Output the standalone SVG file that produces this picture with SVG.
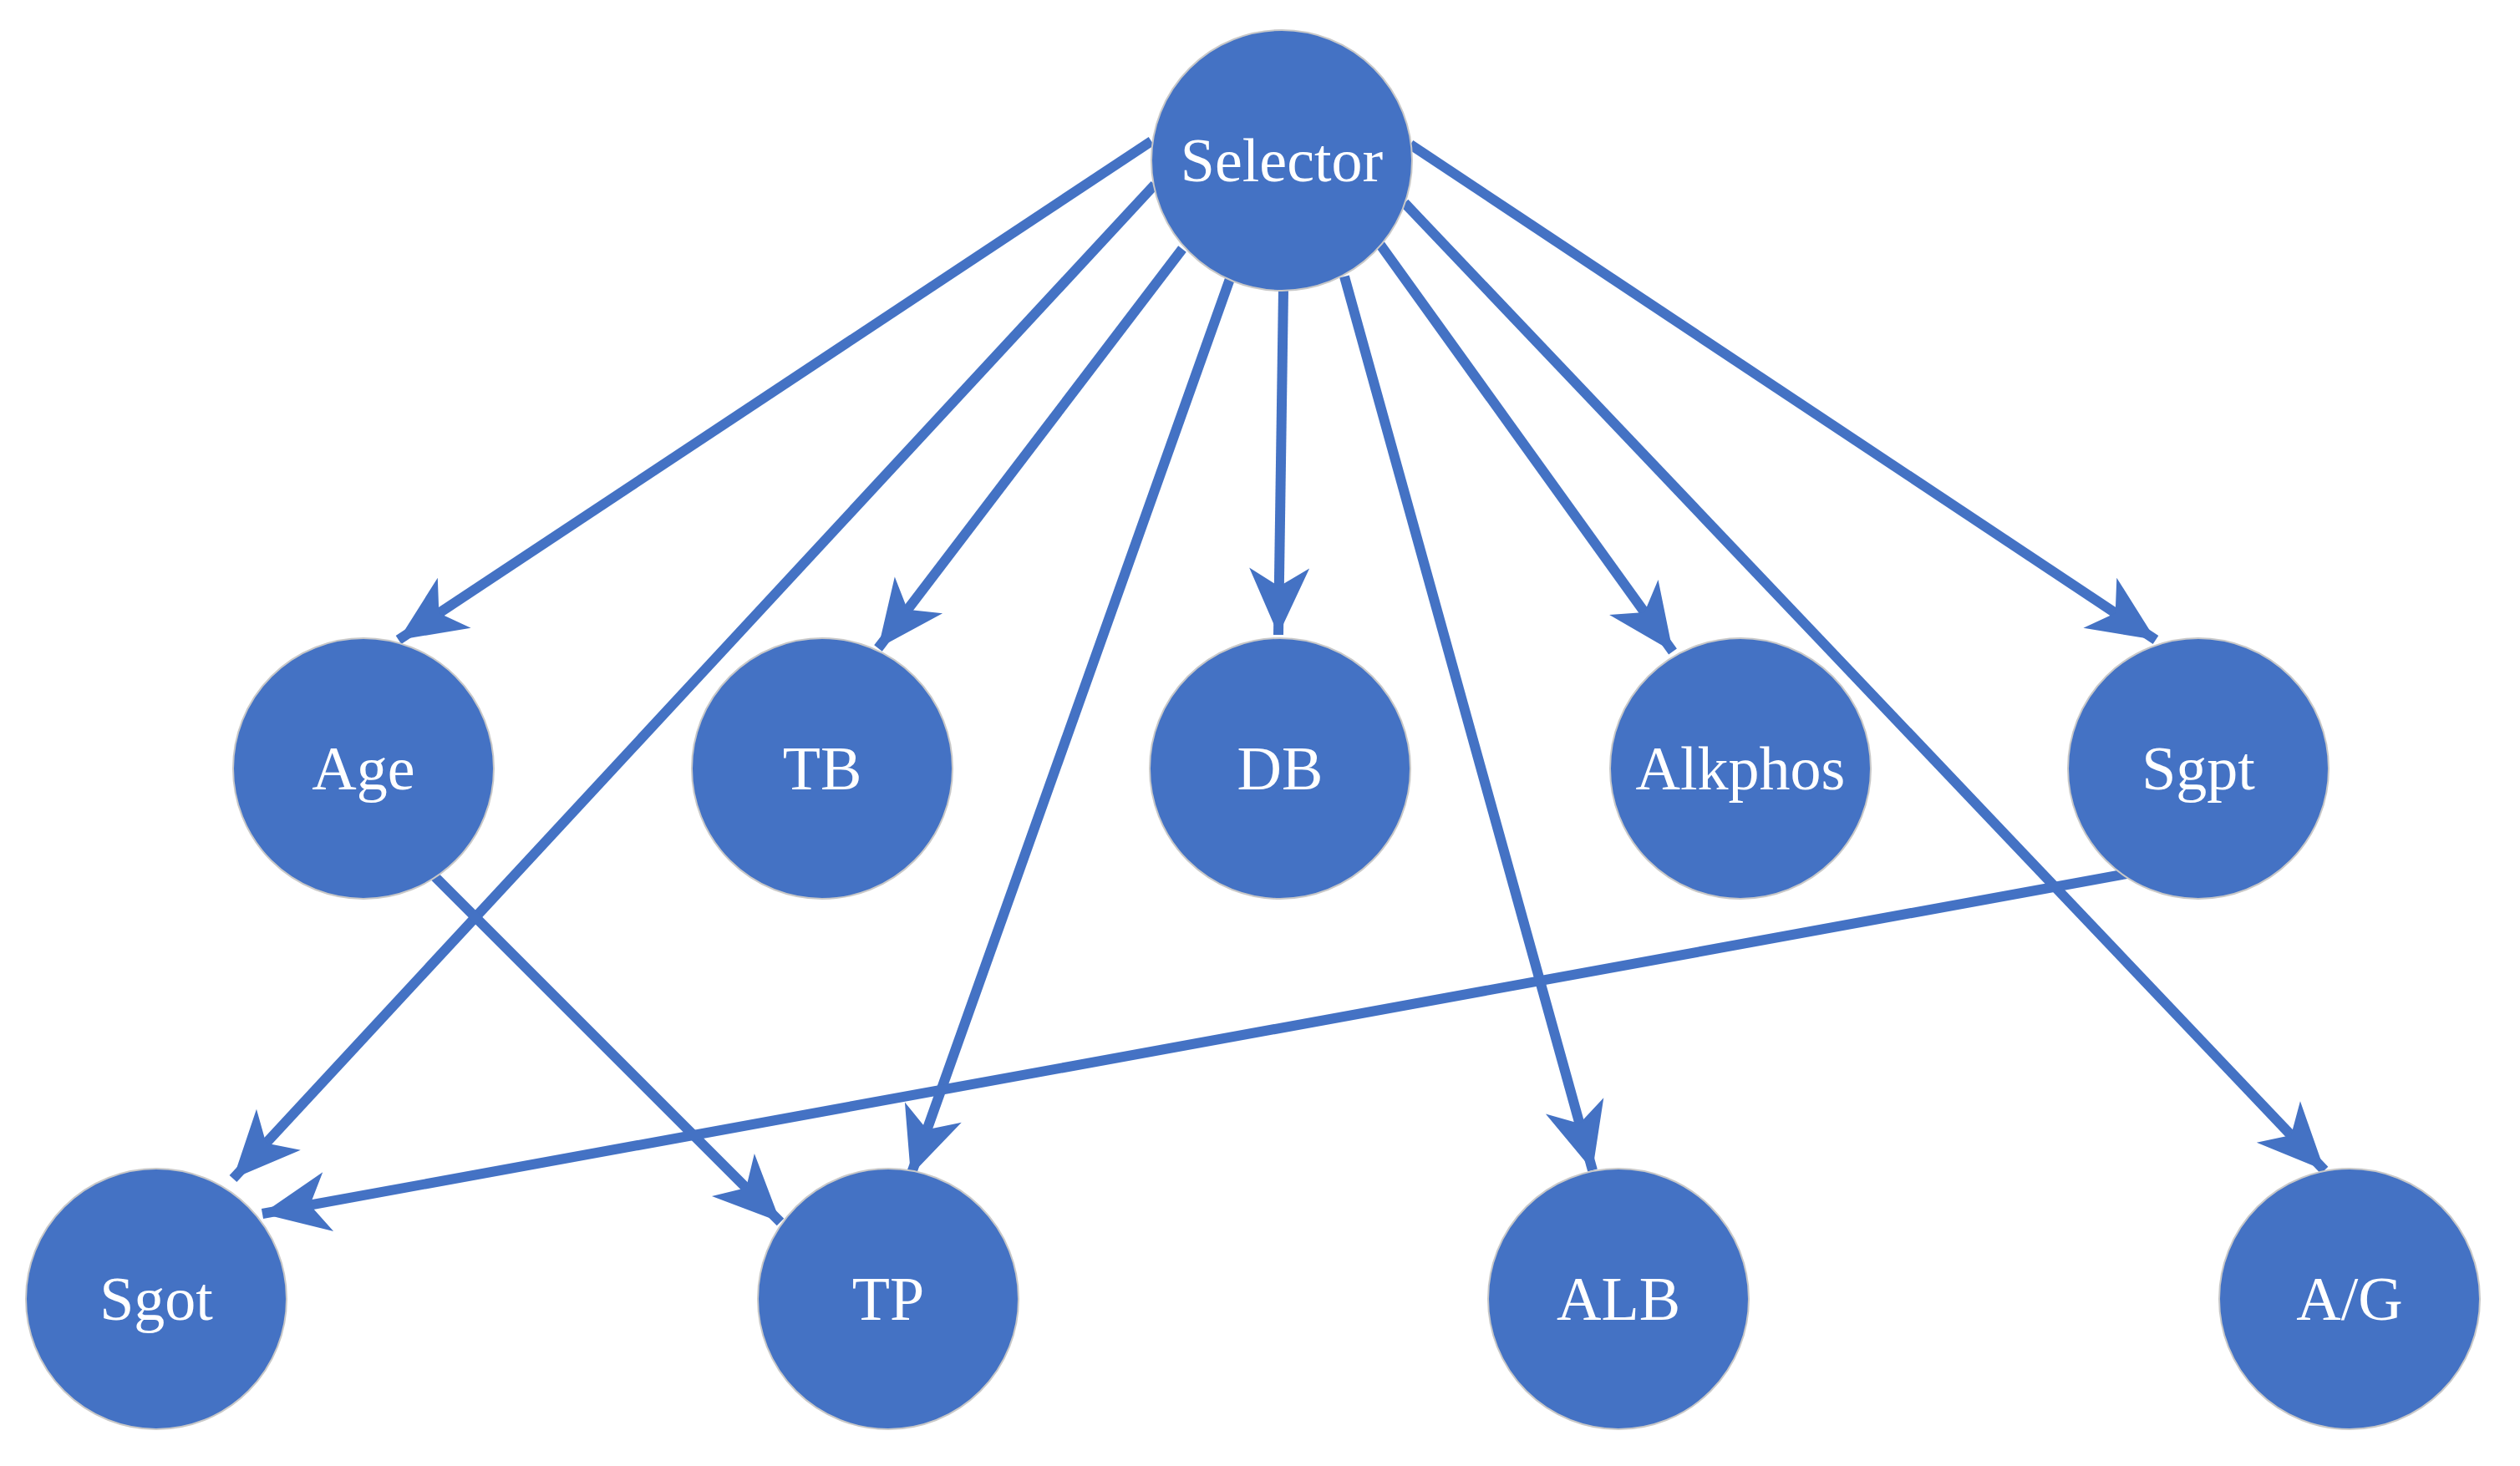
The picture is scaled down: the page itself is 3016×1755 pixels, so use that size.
<svg xmlns="http://www.w3.org/2000/svg" width="3016" height="1755" viewBox="0 0 3016 1755">
<style>
.e{stroke:#4472C4;stroke-width:12;fill:none;marker-end:url(#a)}
.n{fill:#4472C4;stroke:#c8c8c8;stroke-width:2}
.t{fill:#fff;font-family:"Liberation Serif",serif;font-size:74px;text-anchor:middle;dominant-baseline:central}
</style>
<defs>
<marker id="a" markerUnits="userSpaceOnUse" viewBox="-82 -38 84 76" refX="0" refY="0" markerWidth="84" markerHeight="76" orient="auto">
<path d="M0,0 L-80,-36 L-58,0 L-80,36 Z" fill="#4472C4"/>
</marker>
</defs>
<rect width="3016" height="1755" fill="#fff"/>
<g id="connectors">
<line class="e" x1="1378" y1="169" x2="477" y2="766"/>
<line class="e" x1="1382" y1="221" x2="279" y2="1411"/>
<line class="e" x1="1415" y1="298" x2="1051" y2="776"/>
<line class="e" x1="1473" y1="331" x2="1090" y2="1407"/>
<line class="e" x1="1536" y1="347" x2="1530" y2="760"/>
<line class="e" x1="1609" y1="331" x2="1906" y2="1401"/>
<line class="e" x1="1652" y1="293" x2="2002" y2="780"/>
<line class="e" x1="1681" y1="243" x2="2782" y2="1401"/>
<line class="e" x1="1688" y1="173" x2="2580" y2="766"/>
<line class="e" x1="520" y1="1049" x2="934" y2="1463"/>
<line class="e" x1="2551" y1="1045" x2="314" y2="1453"/>
</g>
<g id="selector"><circle class="n" cx="1534" cy="192" r="156"/><text class="t" x="1534" y="192">Selector</text></g>
<g id="age"><circle class="n" cx="435" cy="920" r="156"/><text class="t" x="435" y="920">Age</text></g>
<g id="tb"><circle class="n" cx="984" cy="920" r="156"/><text class="t" x="984" y="920">TB</text></g>
<g id="db"><circle class="n" cx="1532" cy="920" r="156"/><text class="t" x="1532" y="920">DB</text></g>
<g id="alkphos"><circle class="n" cx="2083" cy="920" r="156"/><text class="t" x="2083" y="920">Alkphos</text></g>
<g id="sgpt"><circle class="n" cx="2631" cy="920" r="156"/><text class="t" x="2631" y="920">Sgpt</text></g>
<g id="sgot"><circle class="n" cx="187" cy="1555" r="156"/><text class="t" x="187" y="1555">Sgot</text></g>
<g id="tp"><circle class="n" cx="1063" cy="1555" r="156"/><text class="t" x="1063" y="1555">TP</text></g>
<g id="alb"><circle class="n" cx="1937" cy="1555" r="156"/><text class="t" x="1937" y="1555">ALB</text></g>
<g id="ag"><circle class="n" cx="2812" cy="1555" r="156"/><text class="t" x="2812" y="1555">A/G</text></g>
</svg>
